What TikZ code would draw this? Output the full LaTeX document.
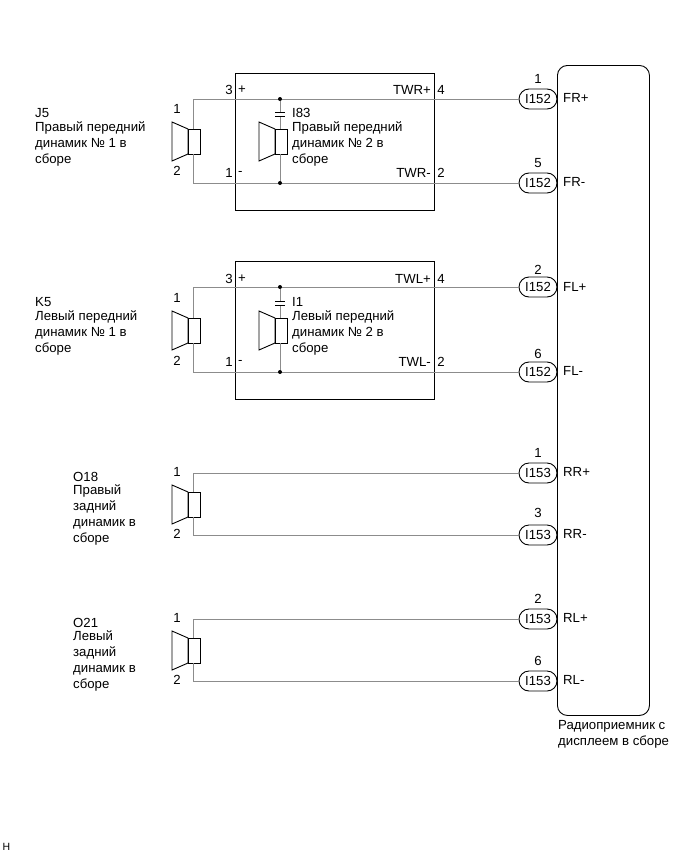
\documentclass[tikz,border=0pt]{standalone}
\usepackage{fontspec}
\setmainfont{Liberation Sans}
\usetikzlibrary{shapes.misc}
\tikzset{
  wire/.style={draw=black!45,line width=0.9pt},
  part/.style={draw=black,line width=0.9pt},
  lbl/.style={inner sep=0pt,font=\fontsize{13.2}{16}\selectfont},
  txt/.style={lbl,anchor=north west,align=left},
  conn/.style={draw=black,fill=white,line width=0.9pt,rounded rectangle,minimum width=38pt,minimum height=20pt,inner sep=0pt,font=\fontsize{13.2}{16}\selectfont},
  junction/.style={circle,fill=black,inner sep=0pt,minimum size=4pt},
  pics/speaker/.style={code={
    \draw[part] (-16,-19.5) -- (0,-12.5) -- (0,12.5) -- (-16,19.5) -- cycle;
    \draw[part] (0,-12.5) rectangle (12,12.5);
    \coordinate (-top) at (5,-12.5);
    \coordinate (-bot) at (5,12.5);
  }}
}
\begin{document}
\begin{tikzpicture}[x=1pt,y=-1pt]
  \useasboundingbox (0,0) rectangle (691,854);
  % module and amplifier boxes
  \node[part,rectangle,rounded corners=10pt,minimum width=92pt,minimum height=650pt,anchor=north west] (radio) at (557,65) {};
  \node[part,minimum width=199pt,minimum height=137pt,anchor=north west] (boxr) at (235,73) {};
  \node[part,minimum width=199pt,minimum height=138pt,anchor=north west] (boxl) at (235,261) {};
  % speakers
  \pic (sa) at (188,141.5) {speaker};
  \pic (sb) at (275,141.5) {speaker};
  \pic (sc) at (188,330.5) {speaker};
  \pic (sd) at (275,330.5) {speaker};
  \pic (se) at (188,504.5) {speaker};
  \pic (sf) at (188,650.5) {speaker};
  % connectors
  \node[conn] (c1) at (538,99) {I152};
  \node[conn] (c2) at (538,183) {I152};
  \node[conn] (c3) at (538,287) {I152};
  \node[conn] (c4) at (538,372) {I152};
  \node[conn] (c5) at (538,473) {I153};
  \node[conn] (c6) at (538,535) {I153};
  \node[conn] (c7) at (538,619) {I153};
  \node[conn] (c8) at (538,681) {I153};
  % wires
  \draw[wire] (sa-top) |- (c1.west);
  \draw[wire] (sa-bot) |- (c2.west);
  \draw[wire] (sc-top) |- (c3.west);
  \draw[wire] (sc-bot) |- (c4.west);
  \draw[wire] (se-top) |- (c5.west);
  \draw[wire] (se-bot) |- (c6.west);
  \draw[wire] (sf-top) |- (c7.west);
  \draw[wire] (sf-bot) |- (c8.west);
  % inner speakers with capacitors
  \node[junction] (jra) at (280,99) {};
  \node[junction] (jrb) at (280,183) {};
  \node[junction] (jla) at (280,287) {};
  \node[junction] (jlb) at (280,372) {};
  \coordinate (capra) at (280,112);
  \coordinate (caprb) at (280,116);
  \coordinate (capla) at (280,301);
  \coordinate (caplb) at (280,305);
  \draw[wire] (jra) -- (capra) (caprb) -- (sb-top) (sb-bot) -- (jrb);
  \draw[wire] (jla) -- (capla) (caplb) -- (sd-top) (sd-bot) -- (jlb);
  \draw[part] (275,112) -- (285,112) (275,116) -- (285,116);
  \draw[part] (275,301) -- (285,301) (275,305) -- (285,305);
  % speaker texts
  \node[txt] (tj) at (35,108.5) {J5\\[-2.5pt]Правый передний\\динамик № 1 в\\сборе};
  \node[txt] (tk) at (35,297.5) {K5\\[-2.5pt]Левый передний\\динамик № 1 в\\сборе};
  \node[txt] (to) at (73,472) {O18\\[-2.5pt]Правый\\задний\\динамик в\\сборе};
  \node[txt] (tp) at (73,618) {O21\\[-2.5pt]Левый\\задний\\динамик в\\сборе};
  \node[txt] (ti) at (292,108.5) {I83\\[-2.5pt]Правый передний\\динамик № 2 в\\сборе};
  \node[txt] (tm) at (292,297.5) {I1\\[-2.5pt]Левый передний\\динамик № 2 в\\сборе};
  \node[txt] (tr) at (558,720) {Радиоприемник с\\дисплеем в сборе};
  % pin numbers
  \foreach \n/\x/\y/\t in {a/177/109/1,b/177/171/2,c/177/298/1,d/177/361/2,e/177/472/1,f/177/534/2,g/177/618/1,h/177/680/2,
    i/229/90/3,j/229/173/1,k/229/279/3,l/229/362/1,m/441/90/4,n/441/173/2,o/441/279/4,p/441/362/2,
    q/538/79/1,r/538/163/5,s/538/270/2,t/538/354/6,u/538/453/1,v/538/513/3,w/538/599/2,x/538/661/6}
    \node[lbl] (pin\n) at (\x,\y) {\t};
  % pin names
  \foreach \n/\y/\t in {a/90/+,b/173/-,c/279/+,d/362/-}
    \node[lbl,anchor=west] (sign\n) at (238,\y) {\t};
  \foreach \n/\y/\t in {a/90/TWR+,b/173/TWR-,c/279/TWL+,d/362/TWL-}
    \node[lbl,anchor=east] (tw\n) at (431,\y) {\t};
  \foreach \n/\y/\t in {a/98/FR+,b/182/FR-,c/287/FL+,d/371/FL-,e/472/RR+,f/534/RR-,g/618/RL+,h/680/RL-}
    \node[lbl,anchor=west] (out\n) at (563,\y) {\t};
  \node[inner sep=0pt,font=\fontsize{10.5}{12}\selectfont] (mark) at (6.5,847) {H};
\end{tikzpicture}
\end{document}
